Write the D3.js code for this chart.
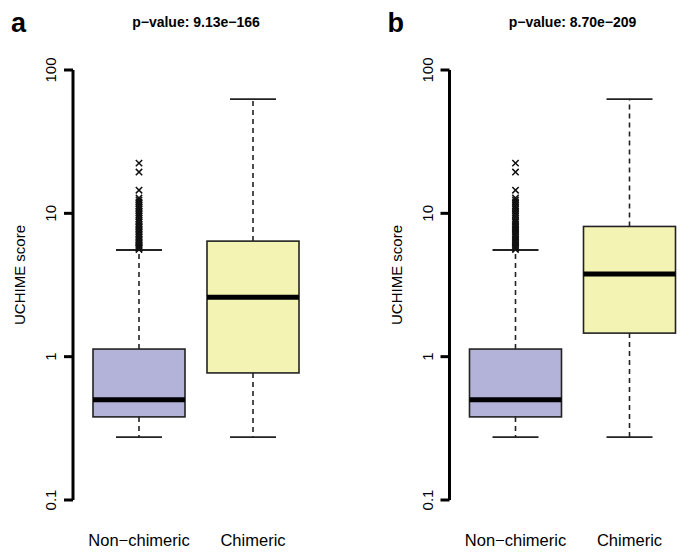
<!DOCTYPE html>
<html>
<head>
<meta charset="utf-8">
<script src="https://cdn.jsdelivr.net/npm/d3@7"></script>
<style>
  body { margin: 0; background: #fff; }
  text { font-family: "Liberation Sans", Arial, sans-serif; fill: #000; }
</style>
</head>
<body>
<div id="chart"></div>
<script>
// categories and panels
var categories = ["Non-chimeric", "Chimeric"];
var panelLabels = ["a", "b"];
var pValues = ["p\u2212value: 9.13e\u2212166", "p\u2212value: 8.70e\u2212209"];
var yTicks = [0.1, 1, 10, 100];

// box stats: [lower whisker, Q1, median, Q3, upper whisker]
var nonChimeric = [0.275, 0.38, 0.50, 1.13, 5.55];
var chimericA = [0.275, 0.77, 2.6, 6.4, 62.7];
var chimericB = [0.275, 1.46, 3.77, 8.1, 62.7];

// non-chimeric outliers (same set in both panels)
var outliers = [22.4, 19.4, 14.5, 12.8, 12.4, 12.0, 11.7, 11.3, 11.0, 10.7, 10.4,
  10.1, 9.8, 9.5, 9.2, 8.9, 8.7, 8.4, 8.2, 8.0, 7.8, 7.6, 7.4, 7.2, 7.0, 6.8,
  6.6, 6.5, 6.3, 6.2, 6.0, 5.9, 5.8, 5.7, 5.6];

var panels = [
  {label: panelLabels[0], title: pValues[0], boxes: [nonChimeric, chimericA], dx: 0},
  {label: panelLabels[1], title: pValues[1], boxes: [nonChimeric, chimericB], dx: 376.5}
];

var fills = ["#b3b3d9", "#f3f3b3"];

var svg = d3.select("#chart").append("svg")
    .attr("width", 689)
    .attr("height", 558);

var y = d3.scaleLog().domain([0.1, 100]).range([500, 70]);
var x = d3.scalePoint().domain(categories).range([82, 310]).padding(0.5);
var boxW = 92, capW = 46;

panels.forEach(function(p) {
  var g = svg.append("g").attr("transform", "translate(" + p.dx + ",0)");

  // panel letter
  g.append("text")
    .attr("x", 11).attr("y", 32)
    .style("font-size", "27px").style("font-weight", "bold")
    .text(p.label);

  // title
  g.append("text")
    .attr("x", 196).attr("y", 27)
    .attr("text-anchor", "middle")
    .style("font-size", "14px").style("font-weight", "bold")
    .text(p.title);

  // y axis
  var ax = g.append("g")
      .attr("transform", "translate(73,0)")
      .call(d3.axisLeft(y).tickValues(yTicks).tickFormat(d3.format("~g")).tickSize(9));
  ax.select(".domain").attr("d", "M0," + y(0.1) + "V" + y(100))
    .attr("stroke", "#000").attr("stroke-width", 3);
  ax.selectAll(".tick").attr("transform", null);
  ax.selectAll(".tick line")
    .attr("stroke", "#000").attr("stroke-width", 3)
    .attr("y1", function(d) { return y(d); }).attr("y2", function(d) { return y(d); });
  ax.selectAll(".tick text")
    .attr("transform", "rotate(-90)")
    .attr("text-anchor", "middle")
    .attr("dy", 0)
    .attr("x", function(d) { return -y(d); })
    .attr("y", -17)
    .style("font-family", "'Liberation Sans', Arial, sans-serif")
    .style("font-size", "15px");

  // axis title
  g.append("text")
    .attr("transform", "translate(25,275) rotate(-90)")
    .attr("text-anchor", "middle")
    .style("font-size", "15px")
    .text("UCHIME score");

  // category labels
  g.selectAll(".cat").data(categories).enter().append("text")
    .attr("x", function(d) { return x(d); })
    .attr("y", 546)
    .attr("text-anchor", "middle")
    .style("font-size", "16.5px")
    .text(function(d) { return d.replace("-", "\u2212"); });

  // boxes
  p.boxes.forEach(function(b, i) {
    var cx = x(categories[i]);
    var bg = g.append("g");
    // whiskers
    bg.append("line")
      .attr("x1", cx).attr("x2", cx).attr("y1", y(b[3])).attr("y2", y(b[4]))
      .attr("stroke", "#222").attr("stroke-width", 1.6).attr("stroke-dasharray", "5,4");
    bg.append("line")
      .attr("x1", cx).attr("x2", cx).attr("y1", y(b[1])).attr("y2", y(b[0]))
      .attr("stroke", "#222").attr("stroke-width", 1.6).attr("stroke-dasharray", "5,4");
    [b[0], b[4]].forEach(function(v) {
      bg.append("line")
        .attr("x1", cx - capW / 2).attr("x2", cx + capW / 2)
        .attr("y1", y(v)).attr("y2", y(v))
        .attr("stroke", "#222").attr("stroke-width", 1.8);
    });
    // box
    bg.append("rect")
      .attr("x", cx - boxW / 2).attr("width", boxW)
      .attr("y", y(b[3])).attr("height", y(b[1]) - y(b[3]))
      .attr("fill", fills[i]).attr("stroke", "#222").attr("stroke-width", 1.6);
    // median
    bg.append("line")
      .attr("x1", cx - boxW / 2).attr("x2", cx + boxW / 2)
      .attr("y1", y(b[2])).attr("y2", y(b[2]))
      .attr("stroke", "#000").attr("stroke-width", 5);

    if (i === 0) {
      bg.selectAll(".out").data(outliers).enter().append("path")
        .attr("class", "out")
        .attr("d", function(v) {
          var yy = y(v), s = 3.2;
          return "M" + (cx - s) + "," + (yy - s) + "L" + (cx + s) + "," + (yy + s) +
                 "M" + (cx - s) + "," + (yy + s) + "L" + (cx + s) + "," + (yy - s);
        })
        .attr("stroke", "#111").attr("stroke-width", 1.5).attr("fill", "none");
    }
  });
});
</script>
</body>
</html>
